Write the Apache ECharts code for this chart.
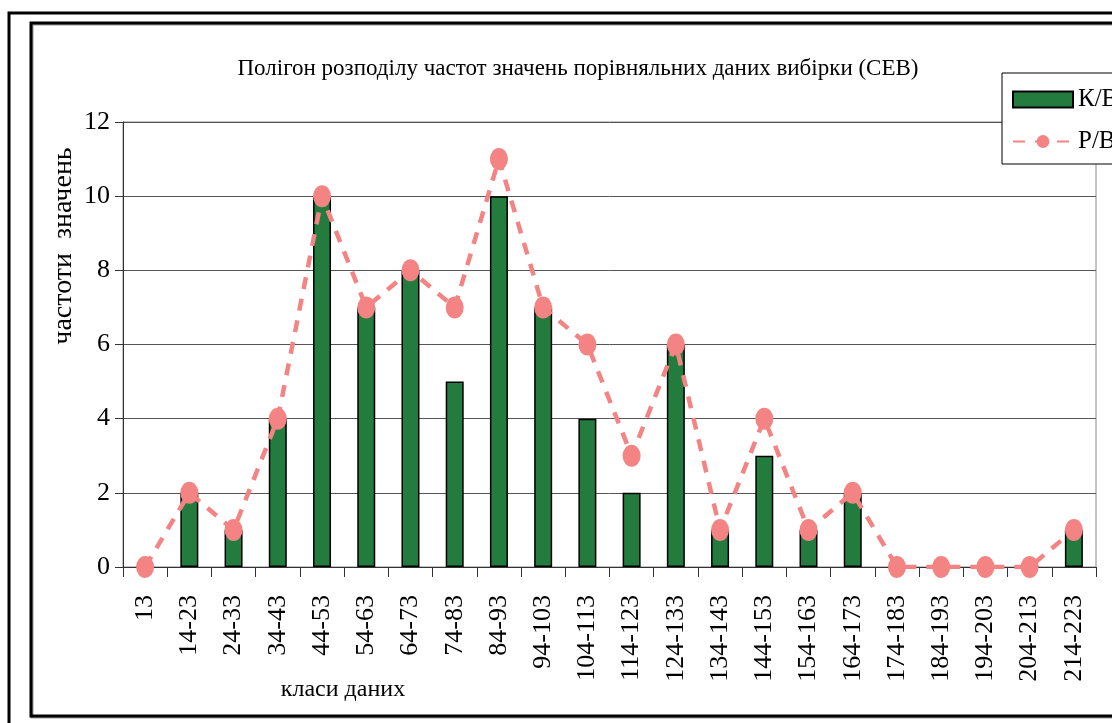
<!DOCTYPE html>
<html>
<head>
<meta charset="utf-8">
<script src="https://cdn.jsdelivr.net/npm/echarts@6/dist/echarts.min.js"></script>
<style>
  html, body { margin: 0; padding: 0; background: #fff; }
  #chart { width: 1112px; height: 723px; }
</style>
</head>
<body>
<div id="chart"></div>
<script>
// класи даних
const classes = ['13', '14-23', '24-33', '34-43', '44-53', '54-63', '64-73', '74-83', '84-93', '94-103',
  '104-113', '114-123', '124-133', '134-143', '144-153', '154-163', '164-173', '174-183',
  '184-193', '194-203', '204-213', '214-223'];
// К/В (стовпці)
const kbValues = [0, 2, 1, 4, 10, 7, 8, 5, 10, 7, 4, 2, 6, 1, 3, 1, 2, 0, 0, 0, 0, 1];
// Р/В (полігон)
const pbValues = [0, 2, 1, 4, 10, 7, 8, 7, 11, 7, 6, 3, 6, 1, 4, 1, 2, 0, 0, 0, 0, 1];

const serif = '"Liberation Serif", "DejaVu Serif", serif';

const chart = echarts.init(document.getElementById('chart'));

const option = {
  backgroundColor: '#fff',
  animation: false,
  title: {
    text: 'Полігон розподілу частот значень порівняльних даних вибірки (СЕВ)',
    left: 573,
    top: 52,
    textAlign: 'center',
    textStyle: { fontFamily: serif, fontSize: 23, fontWeight: 'normal', color: '#000' }
  },
  legend: {
    left: 1002,
    top: 73,
    orient: 'vertical',
    padding: [14, 60, 10, 10],
    itemGap: 17,
    itemWidth: 60,
    itemHeight: 16,
    backgroundColor: '#fff',
    borderColor: '#000',
    borderWidth: 1,
    textStyle: { fontFamily: serif, fontSize: 25, color: '#000' },
    data: [{ name: 'К/В', icon: 'rect' }, { name: 'Р/В' }]
  },
  grid: {
    left: 123,
    right: 16,
    top: 122,
    bottom: 156,
    show: true,
    borderColor: '#888',
    borderWidth: 1
  },
  xAxis: {
    type: 'category',
    data: classes,
    axisLine: { lineStyle: { color: '#333', width: 1 } },
    axisTick: { show: true, length: 10, lineStyle: { color: '#333' } },
    axisLabel: {
      interval: 0,
      rotate: 90,
      margin: 28,
      fontFamily: serif,
      fontSize: 26,
      color: '#000'
    }
  },
  yAxis: {
    type: 'value',
    min: 0,
    max: 12,
    interval: 2,
    axisLine: { show: true, lineStyle: { color: '#333' } },
    axisTick: { show: true, length: 8, lineStyle: { color: '#333' } },
    axisLabel: { fontFamily: serif, fontSize: 26, color: '#000', margin: 13 },
    splitLine: { lineStyle: { color: '#555', width: 1 } }
  },
  graphic: [
    {
      type: 'rect',
      shape: { x: 9, y: 13, width: 1200, height: 720 },
      style: { fill: 'none', stroke: '#000', lineWidth: 3 },
      z: 0
    },
    {
      type: 'rect',
      shape: { x: 31, y: 23, width: 1200, height: 693 },
      style: { fill: 'none', stroke: '#000', lineWidth: 3, shadowColor: 'rgba(0,0,0,0.4)', shadowOffsetY: 1, shadowOffsetX: 1 },
      z: 0
    },
    {
      type: 'text',
      x: 64,
      y: 246,
      rotation: Math.PI / 2,
      style: { text: 'частоти  значень', font: '28px ' + serif, fill: '#000', align: 'center', verticalAlign: 'middle' }
    },
    {
      type: 'text',
      x: 343,
      y: 690,
      style: { text: 'класи даних', font: '24px ' + serif, fill: '#000', align: 'center', verticalAlign: 'middle' }
    }
  ],
  series: [
    {
      name: 'К/В',
      type: 'bar',
      data: kbValues,
      barWidth: 18,
      itemStyle: { color: '#237C3E', borderColor: '#000', borderWidth: 1.5 },
      z: 2
    },
    {
      name: 'Р/В',
      type: 'line',
      data: pbValues,
      symbol: 'circle',
      symbolSize: [18, 22],
      itemStyle: { color: '#F48484' },
      lineStyle: { color: '#F48484', width: 4.5, type: [12, 10] },
      z: 3
    }
  ]
};

chart.setOption(option);
</script>
</body>
</html>
